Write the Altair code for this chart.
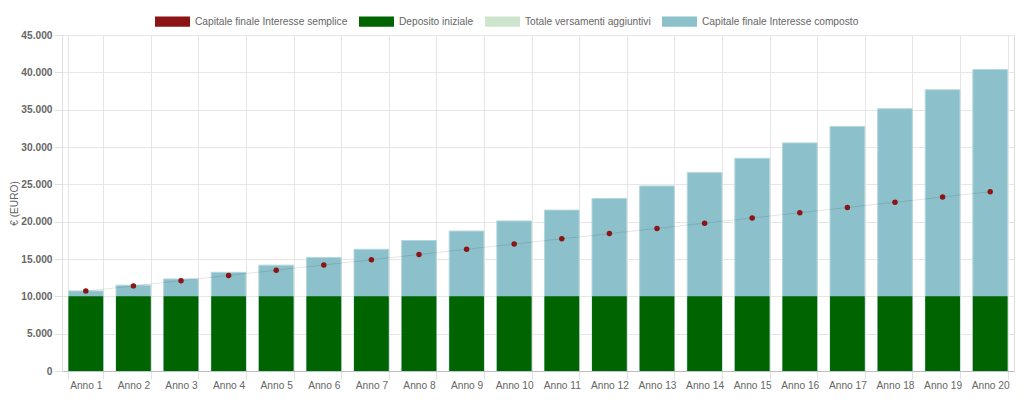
import altair as alt
import pandas as pd

anni = [f"Anno {i}" for i in range(1, 21)]
semplice = [10700, 11400, 12100, 12800, 13500, 14200, 14900, 15600, 16300, 17000,
            17700, 18400, 19100, 19800, 20500, 21200, 21900, 22600, 23300, 24000]
deposito = [10000] * 20
versamenti = [0] * 20
composto = [10723, 11498, 12329, 13221, 14176, 15201, 16300, 17478, 18742, 20097,
            21549, 23107, 24778, 26569, 28489, 30549, 32757, 35125, 37665, 40387]

serie_nomi = ["Capitale finale Interesse semplice", "Deposito iniziale",
              "Totale versamenti aggiuntivi", "Capitale finale Interesse composto"]
serie_colori = ["#8b1414", "#006400", "#cde4cd", "#8cc1cb"]

rows = []
for nome, vals in zip(serie_nomi, [semplice, deposito, versamenti, composto]):
    for a, v in zip(anni, vals):
        rows.append({"anno": a, "serie": nome, "valore": v})
df = pd.DataFrame(rows)

FONT = "Liberation Sans"
color_scale = alt.Scale(domain=serie_nomi, range=serie_colori)
legend = alt.Legend(
    title=None, orient="none", direction="horizontal", legendX=93, legendY=-31,
    symbolType="M-1,-0.29L1,-0.29L1,0.29L-1,0.29Z", symbolSize=1225,
    symbolStrokeWidth=0, labelFont=FONT, labelFontSize=10.2, labelColor="#666666",
    labelOffset=5, columnPadding=11, padding=0, labelLimit=300,
)
color = alt.Color("serie:N", scale=color_scale, legend=legend)

x = alt.X("anno:N", sort=anni, title=None,
          scale=alt.Scale(paddingInner=0.27, paddingOuter=0.135),
          axis=alt.Axis(labelAngle=0, tickBand="extent", grid=True, gridColor="#e6e6e6",
                        tickColor="#e0e0e0", tickSize=8, labelPadding=1,
                        domainColor="#bdbdbd", labelFont=FONT, labelFontSize=10.2,
                        labelColor="#666666"))
y = alt.Y("valore:Q", title="€ (EURO)",
          scale=alt.Scale(domain=[0, 45000], nice=False),
          axis=alt.Axis(values=list(range(0, 45001, 5000)), gridColor="#e6e6e6",
                        tickColor="#e0e0e0", tickSize=8, labelPadding=2,
                        domainColor="#e0e0e0",
                        labelExpr="replace(format(datum.value, ','), ',', '.')",
                        labelFont=FONT, labelFontSize=10.2, labelFontWeight="bold",
                        labelColor="#666666", titleFont=FONT, titleFontSize=10.2,
                        titleFontWeight="normal", titleColor="#666666", titlePadding=1))

base = alt.Chart(df)
blu = base.transform_filter(alt.datum.serie == serie_nomi[3]).mark_bar(
    stroke="#b4d7dd", strokeWidth=1).encode(x=x, y=y, color=color)
verde = base.transform_filter(alt.datum.serie == serie_nomi[1]).mark_bar().encode(
    x=x, y=y, color=color)
chiaro = base.transform_filter(alt.datum.serie == serie_nomi[2]).mark_bar().encode(
    x=x, y=y, color=color)
linea = base.transform_filter(alt.datum.serie == serie_nomi[0]).mark_line(
    color="#000000", strokeOpacity=0.1, strokeWidth=1).encode(x=x, y=y)
punti = base.transform_filter(alt.datum.serie == serie_nomi[0]).mark_point(
    filled=True, size=30, opacity=1).encode(x=x, y=y, color=color)

chart = alt.layer(blu, verde, chiaro, linea, punti).properties(
    width=952, height=336,
    autosize=alt.AutoSizeParams(type="none"),
    padding={"left": 54, "top": 27, "right": 2, "bottom": 30},
).configure_view(strokeWidth=0).configure(background="#ffffff")

chart.save("out.html", embed_options={"renderer": "svg", "actions": False})
